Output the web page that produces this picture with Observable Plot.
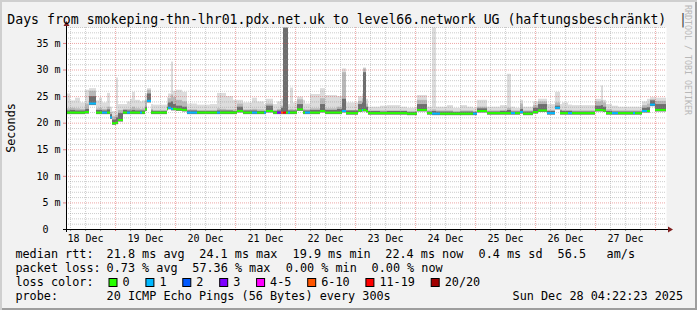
<!DOCTYPE html>
<html><head><meta charset="utf-8">
<script src="https://cdn.jsdelivr.net/npm/d3@7"></script>
<script src="https://cdn.jsdelivr.net/npm/@observablehq/plot@0.6"></script>
<style>
html,body{margin:0;padding:0;background:#f2f2f2}
#wrap{position:relative;width:697px;height:310px;overflow:hidden;background:#f2f2f2;
  box-shadow: inset 2px 2px 0 #cfcfcf, inset -2px -2px 0 #9e9e9e;}
#wrap svg{position:absolute;left:0;top:0}
</style></head><body><div id="wrap"></div>
<script>
// ---------- data ----------
const title = "Days from smokeping-thn-lhr01.pdx.net.uk to level66.network UG (haftungsbeschränkt)";
const yLabel = "Seconds";
const watermark = "RRDTOOL / TOBI OETIKER";
const startTime = new Date(Date.UTC(2025, 11, 18, 4, 22, 23));
const endTime = new Date(Date.UTC(2025, 11, 28, 4, 22, 23));
// hours since startTime at which each segment begins
const segHour = [0,1.6,3.6,5.6,7.6,9.2,12,13.2,14.4,16.4,17.6,18.4,20,20.8,22.8,24.4,25.6,26.4,27.6,29.6,
  30.4,31.6,32.4,34,34.8,40.4,40.8,42,42.8,44,46.4,48.4,52.4,57.6,60.4,61.6,64,66.8,68.4,70.8,
  74.4,76.4,79.2,80,82.8,84.4,86,86.8,88,88.8,89.6,90.8,92.4,94.8,95.6,97.6,101.6,103.6,108.4,110.4,
  112,116.8,118.4,118.8,120,120.8,125.6,128.4,133.6,136.4,140.4,144.4,146.4,148,149.6,152.4,154.8,157.6,160.4,162.8,
  164.4,168.4,173.6,176.4,178,179.6,181.6,182.8,186.8,188.8,192.4,195.6,197.6,198.4,200.8,202.4,211.6,214,214.8,216,
  218.4,220.8,226.8,227.6,230.4,232.4,233.6,235.6];
// median rtt (ms)
const segMedian = [21.9,21.9,21.9,21.9,22.0,23.6,21.9,21.9,21.9,21.9,21.0,19.9,20.0,20.5,21.9,21.9,21.9,21.9,21.9,21.9,
  21.9,22.5,24.1,21.9,21.9,22.6,22.8,22.6,22.6,22.5,22.4,21.9,21.9,21.9,21.9,21.9,21.9,21.9,22.2,21.9,
  21.9,21.9,21.9,22.2,21.9,21.9,21.9,21.9,21.9,21.9,21.9,21.9,22.5,21.9,21.9,21.9,22.2,21.9,21.9,22.2,
  21.8,22.3,22.4,22.4,22.2,21.8,21.8,21.8,21.8,21.7,22.4,21.8,21.7,21.7,21.7,21.7,21.7,21.7,21.7,21.7,
  22.2,21.8,21.8,21.8,21.8,21.8,22.0,21.7,22.0,22.3,21.8,22.8,21.8,21.8,21.8,21.8,22.4,22.4,22.3,21.8,
  21.8,21.8,21.8,21.8,22.2,22.2,23.4,22.4];
// packet loss class (index into lossLabels)
const segLoss = [0,0,0,0,0,1,0,0,1,0,1,0,0,0,0,1,0,0,0,1,
  0,0,1,0,0,0,1,1,0,0,0,1,0,0,1,0,0,0,0,0,
  1,0,1,0,0,3,5,6,0,1,0,0,0,0,1,0,0,0,0,1,
  0,0,1,0,0,0,0,0,0,0,0,0,1,1,0,0,0,0,0,1,
  0,0,0,0,1,0,1,0,0,0,1,1,0,0,1,0,0,0,0,0,
  1,0,1,0,1,0,1,0];
// smoke: top of light (max ping), medium and dark bands (ms)
const segLight = [25.5,24.2,24.7,23.8,26.2,26.5,24.2,24.7,23.8,25.6,23.0,22.2,28.5,23.5,23.5,24.0,24.5,25.8,24.3,24.0,
  24.2,25.5,26.5,23.5,23.4,24.8,25.5,31.5,26.0,26.2,25.8,23.6,23.4,23.5,25.6,25.6,25.0,24.3,24.3,23.8,
  24.7,24.0,23.5,24.5,23.5,24.0,24.5,38.0,38.0,23.5,26.6,23.8,24.9,24.3,23.6,25.4,26.5,25.2,25.0,30.2,
  23.8,25.0,25.5,30.4,24.5,23.0,23.2,23.3,23.0,22.8,25.2,23.0,37.9,23.0,23.0,23.3,22.8,23.3,23.0,22.8,
  24.3,23.0,23.3,29.2,23.0,22.8,24.3,23.0,24.0,24.5,23.5,25.8,23.5,23.8,23.4,23.3,24.5,27.0,24.3,23.5,
  23.2,23.0,23.0,23.0,24.0,24.5,24.8,24.7];
const segMid = [22.7,22.8,22.7,22.6,23.6,26.0,22.7,22.8,22.6,23.0,22.0,21.2,21.5,22.4,22.6,22.6,22.7,23.0,22.7,22.6,
  22.7,24.3,26.2,22.6,22.4,23.6,24.6,25.3,24.8,24.3,24.0,22.5,22.4,22.4,22.7,22.6,22.5,22.5,23.6,22.5,
  22.6,22.5,22.4,23.6,22.4,22.6,23.2,38.0,38.0,22.5,22.6,22.5,24.4,22.6,22.5,22.7,24.6,22.7,23.0,29.5,
  22.4,24.1,24.6,30.2,23.6,22.3,22.3,22.3,22.3,22.2,24.3,22.3,22.5,22.3,22.3,22.3,22.2,22.3,22.3,22.2,
  23.0,22.3,22.4,22.8,22.3,22.3,23.6,22.3,23.3,24.0,22.4,23.8,22.5,22.4,22.4,22.3,24.0,24.2,23.8,22.5,
  22.3,22.3,22.3,22.3,23.3,23.6,24.4,24.1];
const segDark = [22.3,22.4,22.3,22.3,22.6,25.0,22.4,22.4,22.3,22.5,21.6,20.6,21.0,21.8,22.4,22.3,22.3,22.4,22.3,22.3,
  22.3,23.0,25.5,22.3,22.2,23.0,23.8,24.0,23.5,23.2,23.0,22.3,22.2,22.2,22.3,22.3,22.3,22.2,23.0,22.3,
  22.3,22.2,22.2,23.2,22.2,22.3,22.8,37.8,37.8,22.3,22.3,22.3,23.5,22.3,22.3,22.4,23.5,22.4,22.6,24.5,
  22.3,23.5,23.8,29.5,23.0,22.2,22.1,22.2,22.2,22.0,23.5,22.1,22.2,22.1,22.1,22.1,22.0,22.1,22.1,22.0,
  22.7,22.1,22.2,22.4,22.1,22.1,22.6,22.1,22.8,23.5,22.2,23.2,22.3,22.2,22.2,22.1,23.2,23.3,23.0,22.2,
  22.1,22.1,22.1,22.1,22.8,22.9,24.2,23.5];
const lossLabels = ["0","1","2","3","4-5","6-10","11-19","20/20"];
const lossColors = ["#26ff00","#00b8ff","#0059ff","#7e00ff","#ff00ff","#ff5500","#ff0000","#a10000"];
const yTicks = [0,5,10,15,20,25,30,35];
const rttRow = ["median rtt:","21.8 ms avg","24.1 ms max","19.9 ms min","22.4 ms now","0.4 ms sd","56.5","am/s"];
const lossRow = ["packet loss:","0.73 % avg","57.36 % max","0.00 % min","0.00 % now"];
const lossColorLabel = "loss color:";
const probeRow = ["probe:","20 ICMP Echo Pings (56 Bytes) every 300s","Sun Dec 28 04:22:23 2025"];

// ---------- build ----------
const H = 3600e3;
const segs = segHour.map((h, i) => ({
  x1: new Date(+startTime + h * H),
  x2: new Date(+startTime + (i + 1 < segHour.length ? segHour[i + 1] : 240) * H),
  med: segMedian[i], loss: segLoss[i], light: segLight[i], mid: segMid[i], dark: segDark[i]
}));
const minor6h = d3.utcHour.every(6).range(startTime, endTime).filter(d => d.getUTCHours() !== 0);
const midnights = d3.utcDay.range(startTime, endTime);
const noons = d3.utcDay.range(d3.utcDay.floor(startTime), endTime)
  .map(d => d3.utcHour.offset(d, 12)).filter(d => d >= startTime && d <= endTime);
const minorY = d3.range(1, 39).filter(v => v % 5 !== 0);
const majorY = yTicks.filter(v => v > 0);
const mono = "DejaVu Sans Mono";
const nb = "\u00a0";

const chart = Plot.plot({
  width: 697, height: 310,
  marginLeft: 66, marginRight: 31, marginTop: 27, marginBottom: 81,
  style: {background: "transparent", fontFamily: mono, fontSize: "10px", color: "#000", overflow: "visible"},
  x: {type: "utc", domain: [startTime, endTime]},
  y: {domain: [0, 38]},
  color: {type: "identity"},
  marks: [
    Plot.frame({fill: "#ffffff", stroke: null}),
    Plot.rect(segs, {x1: "x1", x2: "x2", y1: d => d.med - 0.3, y2: "light", fill: "#dcdcdc"}),
    Plot.rect(segs, {x1: "x1", x2: "x2", y1: d => d.med - 0.3, y2: "mid", fill: "#b8b8b8"}),
    Plot.rect(segs, {x1: "x1", x2: "x2", y1: d => d.med - 0.25, y2: "dark", fill: "#6e6e6e"}),
    Plot.gridX(minor6h, {stroke: "#8f8f8f", strokeOpacity: 0.45, strokeDasharray: "1,1"}),
    Plot.gridX(midnights, {stroke: "#de5050", strokeOpacity: 0.5, strokeDasharray: "1,1"}),
    Plot.gridY(minorY, {stroke: "#8f8f8f", strokeOpacity: 0.45, strokeDasharray: "1,1"}),
    Plot.gridY(majorY, {stroke: "#de5050", strokeOpacity: 0.5, strokeDasharray: "1,1"}),
    Plot.rect(segs, {x1: "x1", x2: "x2", y1: d => d.med - 0.19, y2: d => d.med + 0.19, fill: d => lossColors[d.loss]}),
    Plot.axisY(yTicks, {tickSize: 3, tickPadding: 3, stroke: "#de5050", strokeOpacity: 0.7, fill: "#000",
      fontSize: 10, tickFormat: d => d === 0 ? "0" + nb + nb : d + nb + "m", label: null}),
    Plot.axisX(minor6h, {tickSize: 2, stroke: "#8f8f8f", tickFormat: () => "", label: null}),
    Plot.axisX(midnights, {tickSize: 2, stroke: "#de5050", tickFormat: () => "", label: null}),
    Plot.axisX(noons, {tickSize: 0, tickPadding: 5, fill: "#000", fontSize: 10, tickFormat: d3.utcFormat("%d %b"), label: null}),
    Plot.ruleY([0], {stroke: "#000", insetLeft: -3, insetRight: -4}),
    Plot.ruleX([startTime], {stroke: "#000", insetTop: -5, insetBottom: -3})
  ]
});
document.getElementById("wrap").appendChild(chart);

// ---------- decorations (arrows, title, legend) ----------
const svg = d3.select(chart);
const sx = chart.scale("x"), sy = chart.scale("y");
const ax = Math.round(sx.apply(startTime)) + 0.5, ay = Math.round(sy.apply(0)) + 0.5;
const xr = Math.round(sx.apply(endTime));
const yt = Math.round(sy.apply(38));
svg.append("polygon").attr("fill", "#7f1f1f")
  .attr("points", `${xr + 2},${ay - 3} ${xr + 7},${ay} ${xr + 2},${ay + 3}`);
svg.append("polygon").attr("fill", "#7f1f1f")
  .attr("points", `${ax - 3},${yt - 1} ${ax},${yt - 6} ${ax + 3},${yt - 1}`);

const deco = svg.append("g").attr("text-anchor", "start");
function txt(s, x, y, size, extra = {}) {
  const t = deco.append("text")
    .attr("font-family", mono).attr("font-size", size).attr("fill", extra.fill || "#000")
    .attr("text-anchor", extra.anchor || "start")
    .style("white-space", "pre").text(s);
  if (extra.transform) t.attr("transform", extra.transform);
  else t.attr("x", x).attr("y", y);
  return t;
}
txt(title, 7.3, 24, 13.2);
txt("|", 683, 24, 13.2, {fill: "#444", anchor: "middle"});
txt(yLabel, 0, 0, 11.8, {anchor: "middle", transform: "translate(14.5,128) rotate(-90)"});
txt(watermark, 0, 0, 8.3, {fill: "#b8b8b8", transform: "translate(685,5) rotate(90)"});

const fs = 11.8, cw = 7.1;
const rowY = [258, 272, 286, 300];
const rttX = [15.4, 106.6, 199.3, 292.6, 385.3, 478.6, 557.6, 606.6];
rttRow.forEach((s, i) => txt(s, rttX[i], rowY[0], fs));
const lossX = [15.4, 106.6, 192.3, 285.8, 371.6];
lossRow.forEach((s, i) => txt(s, lossX[i], rowY[1], fs));
txt(lossColorLabel, 15.4, rowY[2], fs);
let bx = 108.5;
lossLabels.forEach((lab, i) => {
  deco.append("rect").attr("x", bx + 0.5).attr("y", 278.5).attr("width", 8).attr("height", 8)
    .attr("fill", lossColors[i]).attr("stroke", "#000").attr("stroke-width", 1);
  const lx = bx + 14;
  txt(lab, lx, rowY[2], fs);
  bx = lx + lab.length * cw + 15.8;
});
const probeX = [15.4, 106.6, 512.6];
probeRow.forEach((s, i) => txt(s, probeX[i], rowY[3], fs));
</script></body></html>
